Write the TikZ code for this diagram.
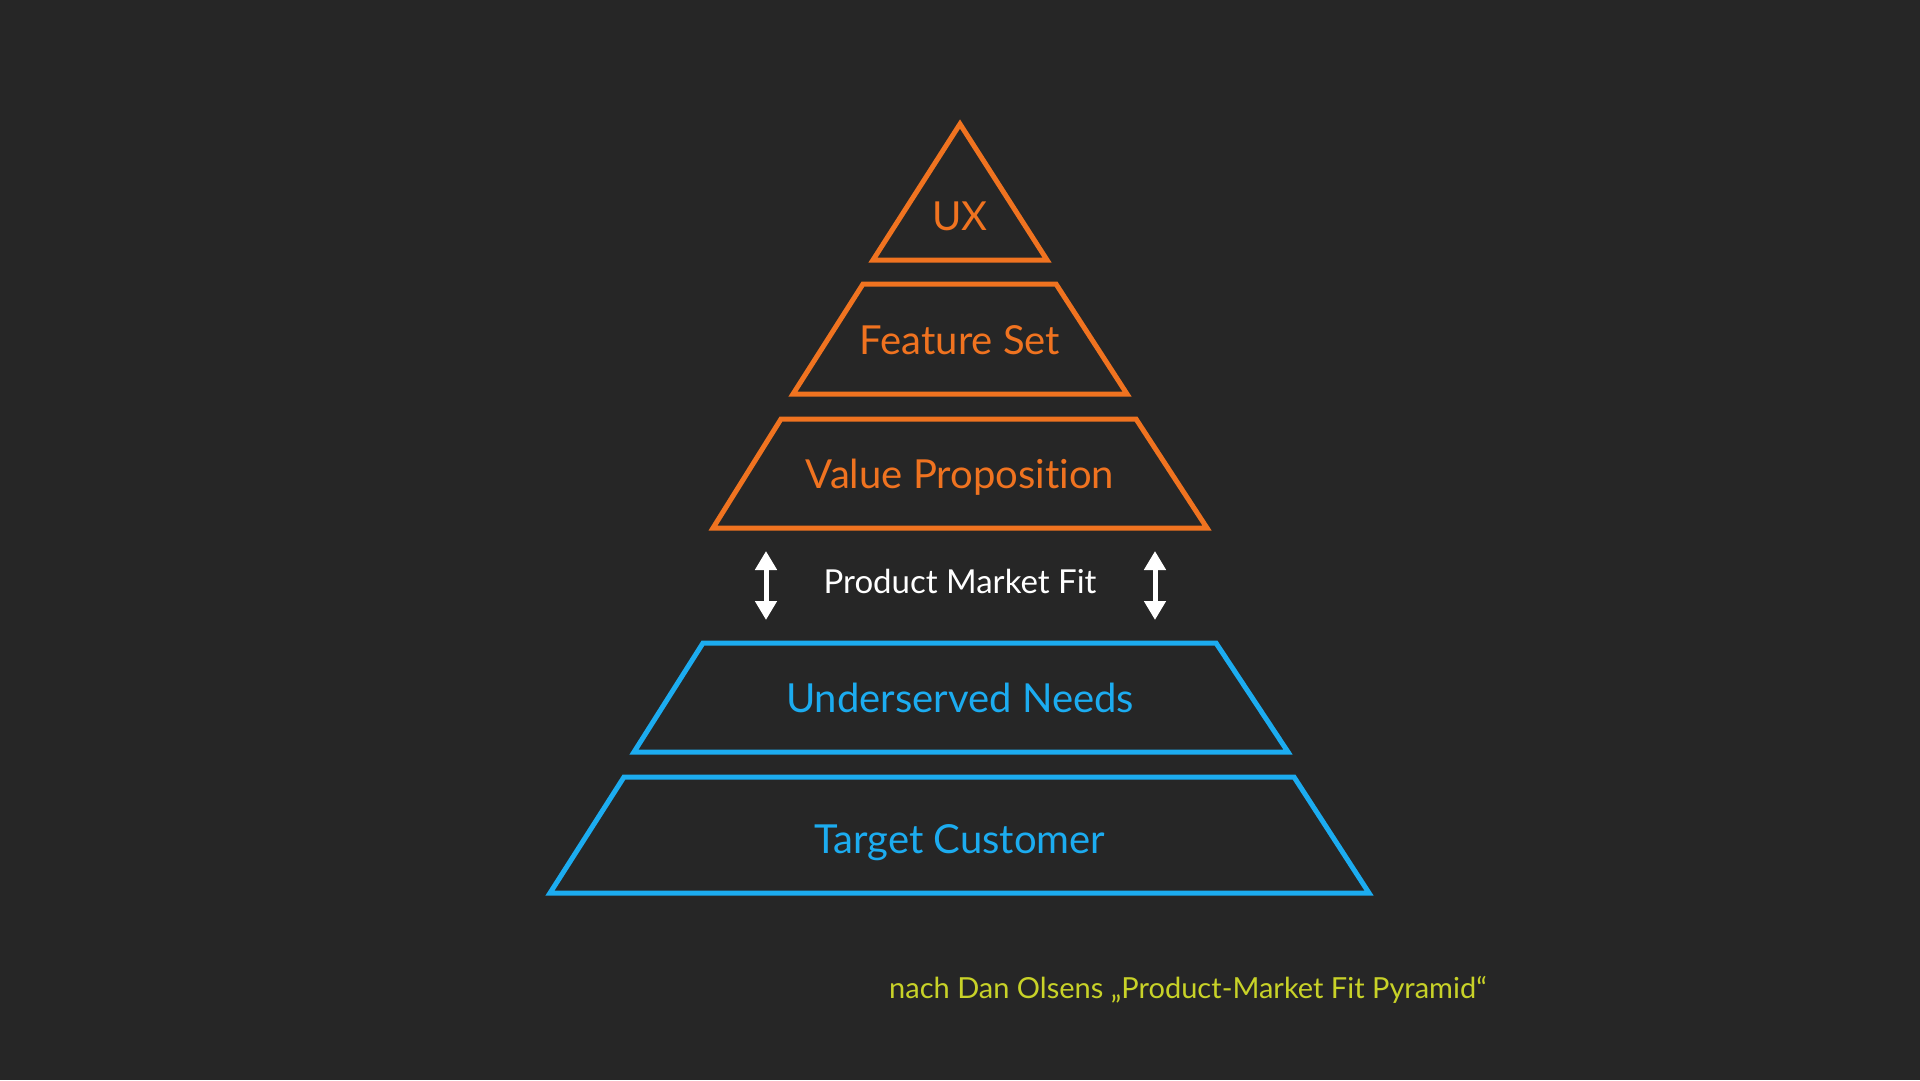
\documentclass[tikz,border=0pt]{standalone}
\usepackage{fontspec}
\setmainfont{Lato}[Ligatures=NoCommon]
\usetikzlibrary{arrows.meta}
\definecolor{bg}{RGB}{38,38,38}
\definecolor{org}{RGB}{240,115,32}
\definecolor{blu}{RGB}{28,172,240}
\definecolor{capc}{RGB}{200,210,40}
\begin{document}
\begin{tikzpicture}[x=1pt,y=-1pt,
  tier/.style={line width=5pt, line join=miter},
  tiertext/.style={anchor=base, inner sep=0pt, font=\fontsize{40}{48}\selectfont},
  fitarrow/.style={white, line width=5pt, {Triangle[width=21pt,length=19pt]}-{Triangle[width=21pt,length=19pt]}}]
\fill[bg] (0,0) rectangle (1920,1080);
\useasboundingbox (0,0) rectangle (1920,1080);
% orange tiers
\draw[tier, org] (960,124) -- (1047,260) -- (873,260) -- cycle;
\draw[tier, org] (863,284) -- (1056,284) -- (1127,394) -- (793,394) -- cycle;
\draw[tier, org] (781,419) -- (1136,419) -- (1207,528) -- (713,528) -- cycle;
% blue tiers
\draw[tier, blu] (703,643) -- (1216,643) -- (1288,752) -- (634,752) -- cycle;
\draw[tier, blu] (624,777) -- (1294,777) -- (1369,893) -- (550,893) -- cycle;
% labels
\node[tiertext, text=org] (ux) at (960,230) {UX};
\node[tiertext, text=org] (fs) at (960,354) {Feature Set};
\node[tiertext, text=org] (vp) at (960,488) {Value Proposition};
\node[tiertext, text=blu] (un) at (960,712) {Underserved Needs};
\node[tiertext, text=blu] (tc) at (960,853) {Target Customer};
\node[anchor=base, inner sep=0pt, text=white, font=\fontsize{33}{40}\selectfont] (pmf) at (960,593) {Product Market Fit};
% arrows
\coordinate (la1) at (766,551);
\coordinate (la2) at (766,620);
\coordinate (ra1) at (1155,551);
\coordinate (ra2) at (1155,620);
\draw[fitarrow] (la1) -- (la2);
\draw[fitarrow] (ra1) -- (ra2);
% caption
\node[anchor=base west, inner sep=0pt, text=capc, font=\fontsize{29}{35}\selectfont] (capt) at (889,998) {nach Dan Olsens „Product-Market Fit Pyramid“};
\end{tikzpicture}
\end{document}
